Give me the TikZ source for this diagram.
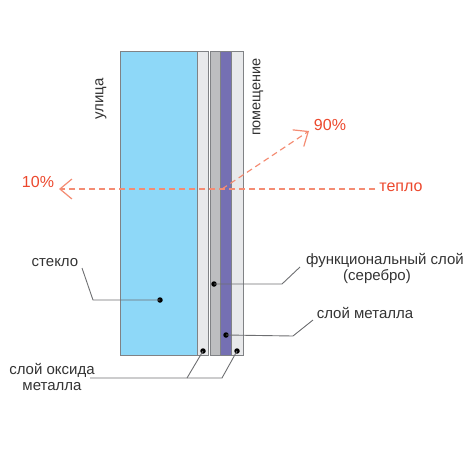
\documentclass[tikz,border=0pt]{standalone}
\usepackage{fontspec}
\setmainfont{Liberation Sans}
\usepackage{tikz}
\usetikzlibrary{arrows.meta, positioning}
\definecolor{glassblue}{RGB}{142,216,248}
\definecolor{oxidegray}{RGB}{232,233,235}
\definecolor{silvergray}{RGB}{189,190,192}
\definecolor{metalviolet}{RGB}{117,112,179}
\definecolor{edgegray}{RGB}{128,130,133}
\definecolor{leadgray}{RGB}{110,111,114}
\definecolor{heatred}{RGB}{236,72,45}
\definecolor{heatdash}{RGB}{244,140,115}
\tikzset{
    layer/.style ={rectangle, draw=edgegray, line width=1pt, inner sep=0pt,
                   outer sep=0pt, minimum height=304pt},
    dot/.style = {circle, fill=black, inner sep=0pt, minimum size=5.5pt},
    lbl/.style = {inner sep=1pt, font=\fontsize{15}{17}\selectfont, text=black!80},
    side/.style = {lbl, rotate=90},
    leader/.style = {draw=leadgray, line width=0.9pt},
    heat/.style = {draw=heatdash, line width=1.2pt, dash pattern=on 6pt off 4pt,
                   -{Straight Barb[length=12pt, width=20pt]}},
    heatlbl/.style = {lbl, font=\fontsize{16}{18}\selectfont, text=heatred}
    }

\begin{document}
\begin{tikzpicture}[
      x = 1pt, y = -1pt, % pixel grid of the picture
      semithick % line style
    ]
    \useasboundingbox (0,0) rectangle (474,456);

    % the glass and its coating
    \node[layer, fill=glassblue, minimum width=77pt] (glass) at (158.5,203) {};
    \node[layer, fill=oxidegray, minimum width=11pt] (ox1) at (202.5,203) {};
    \node[layer, fill=silvergray, minimum width=10pt] (silver) at (215.5,203) {};
    \node[layer, fill=metalviolet, minimum width=11pt] (metal) at (226,203) {};
    \node[layer, fill=oxidegray, minimum width=11.5pt] (ox2) at (237.25,203) {};

    \node[side] (street) at (101,99) {улица};
    \node[side, font=\fontsize{14.5}{17}\selectfont] (room) at (258,97) {помещение};

    % heat flow
    \coordinate (split) at (222,189);
    \node[heatlbl] (heat) at (401,187) {тепло};
    \node[heatlbl] (out) at (38,182) {10\%};
    \node[heatlbl] (back) at (330,125) {90\%};
    \draw[heat] (heat.west) ++(-3,2) -- (59,189);
    \draw[heat] (split) -- (309,131);

    % markers
    \node[dot] (d1) at (160,300) {};
    \node[dot] (d2) at (214,284) {};
    \node[dot] (d3) at (226,335) {};
    \node[dot] (d4) at (203,351) {};
    \node[dot] (d5) at (237,351) {};

    % labels
    \node[lbl] (l1) at (55,263) {стекло};
    \node[lbl] (l2) at (385,260) {функциональный слой};
    \node[lbl] (l2b) at (377,277) {(серебро)};
    \node[lbl] (l3) at (365,313) {слой металла};
    \node[lbl] (l4) at (52,370) {слой оксида};
    \node[lbl] (l4b) at (52,387) {металла};

    \draw[leader] (d1.center) -- (93,300) -- (82,268);
    \draw[leader] (d2.center) -- (282,284) -- (300,267);
    \draw[leader] (d3.center) -- (293,336) -- (313,320);
    \draw[leader] (d4.center) -- (187,378);
    \draw[leader] (d5.center) -- (222,378) -- (90,378);
\end{tikzpicture}
\end{document}
